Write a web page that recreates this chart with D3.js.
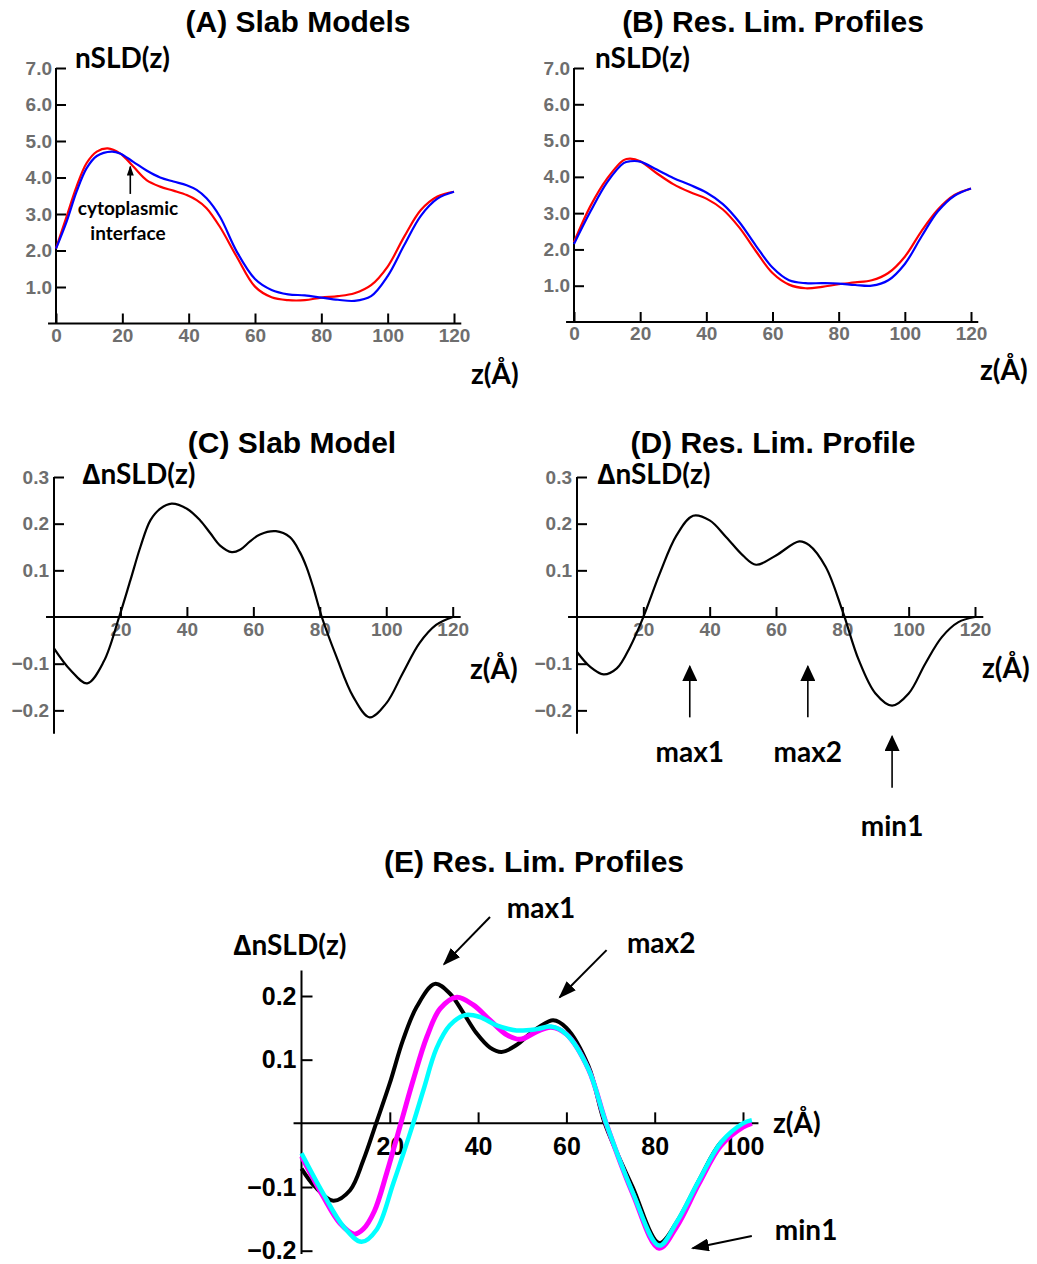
<!DOCTYPE html>
<html>
<head>
<meta charset="utf-8">
<script src="https://cdn.jsdelivr.net/npm/d3@7"></script>
<style>
  body { margin: 0; background: #fff; }
  .title { font-family: "Liberation Sans", Arial, sans-serif; font-weight: bold; font-size: 30px; }
  .lab { font-family: Lato, "Open Sans", sans-serif; font-weight: bold; }
</style>
</head>
<body>
<svg id="fig"></svg>
<script>
// ---- data ----
// (A) slab models, nSLD(z)
var zRedA = [0, 3.2, 6.2, 9.2, 12.3, 15.6, 19.3, 23.3, 27.3, 31.4, 35.4, 39.4, 42.4, 45.4, 49.4, 54.5, 60, 65, 70, 75, 80, 85, 90, 95, 100, 105, 110, 115, 120];
var redA = [2.06, 2.93, 3.75, 4.39, 4.71, 4.8, 4.66, 4.3, 3.93, 3.75, 3.64, 3.52, 3.38, 3.16, 2.65, 1.83, 1.01, 0.72, 0.64, 0.64, 0.71, 0.75, 0.83, 1.05, 1.56, 2.38, 3.11, 3.48, 3.61];
var zBlueA = [0, 3.2, 6.2, 9.2, 12.3, 16.8, 19.3, 23.3, 27.3, 31.4, 35.4, 39.4, 42.4, 45.4, 49.4, 54.5, 60, 65, 70, 75, 80, 85, 90, 95, 100, 105, 110, 115, 120];
var blueA = [2.05, 2.79, 3.61, 4.25, 4.59, 4.71, 4.66, 4.43, 4.19, 4.0, 3.89, 3.79, 3.66, 3.43, 2.93, 1.97, 1.22, 0.92, 0.8, 0.77, 0.71, 0.65, 0.62, 0.75, 1.3, 2.15, 2.95, 3.42, 3.61];

// (B) resolution limited profiles, nSLD(z)
var zB = [0, 5, 10, 15, 17, 20, 25, 30, 35, 40, 45, 50, 55, 60, 65, 70, 75, 80, 85, 90, 95, 100, 105, 110, 115, 120];
var redB = [2.2, 3.2, 3.95, 4.46, 4.5, 4.43, 4.1, 3.8, 3.58, 3.4, 3.1, 2.6, 1.95, 1.35, 1.03, 0.93, 0.97, 1.04, 1.09, 1.15, 1.35, 1.8, 2.5, 3.1, 3.5, 3.68];
var blueB = [2.15, 3.05, 3.85, 4.38, 4.43, 4.42, 4.2, 3.97, 3.78, 3.57, 3.25, 2.75, 2.1, 1.5, 1.15, 1.07, 1.07, 1.06, 1.02, 1.0, 1.15, 1.6, 2.35, 3.05, 3.48, 3.68];

// (C) slab model difference
var zC = [0, 5, 10, 15, 19.6, 23, 26, 29, 32, 35.4, 40, 44, 47, 50, 53.5, 56, 59, 62, 66.8, 71, 74, 76, 78, 80.6, 85, 90, 95, 100, 105, 110, 115, 120];
var dC = [-0.067, -0.114, -0.142, -0.095, 0, 0.079, 0.15, 0.207, 0.232, 0.243, 0.232, 0.207, 0.18, 0.153, 0.139, 0.144, 0.162, 0.177, 0.184, 0.171, 0.139, 0.107, 0.064, 0, -0.085, -0.17, -0.215, -0.185, -0.12, -0.056, -0.017, 0];

// (D) res. lim. profile difference
var zD = [0, 4, 8, 12, 16, 20, 25, 30, 35, 40, 45, 50, 54, 60, 67, 70, 75, 80, 85, 90, 95, 100, 105, 110, 115, 120];
var dD = [-0.075, -0.107, -0.123, -0.11, -0.064, 0, 0.094, 0.175, 0.217, 0.207, 0.171, 0.132, 0.112, 0.132, 0.162, 0.154, 0.107, 0.014, -0.093, -0.164, -0.19, -0.164, -0.1, -0.043, -0.011, 0];

// (E) three res. lim. profiles
var zBlackE = [0, 3, 7.2, 11, 14, 16.9, 20, 23, 26.1, 30.2, 33.6, 36.7, 39.7, 42.7, 45.3, 48.7, 51.8, 54, 57, 60, 65, 68.7, 75, 81, 85, 90, 95, 100, 102];
var blackE = [-0.071, -0.099, -0.1215, -0.105, -0.058, 0, 0.063, 0.131, 0.183, 0.219, 0.204, 0.173, 0.141, 0.119, 0.112, 0.123, 0.141, 0.152, 0.162, 0.15, 0.09, 0, -0.1, -0.188, -0.155, -0.09, -0.03, -0.005, 0];
var zMagE = [0, 4.9, 8.7, 12, 14, 16.5, 19.3, 22.5, 25.3, 28.4, 31.4, 35.2, 38.9, 42.7, 46.5, 49.5, 53.3, 56.5, 60, 65, 69, 75, 81, 85, 90, 95, 100, 102];
var magE = [-0.052, -0.115, -0.157, -0.174, -0.166, -0.138, -0.078, 0, 0.068, 0.136, 0.18, 0.198, 0.186, 0.162, 0.139, 0.132, 0.144, 0.151, 0.14, 0.085, 0, -0.11, -0.196, -0.162, -0.095, -0.035, -0.006, 0];
var zCyanE = [0, 4.9, 9.5, 13.6, 17, 20.8, 25.3, 27.6, 30.6, 33.6, 37, 40.4, 44.2, 48.7, 53.3, 56.5, 60, 65, 69, 75, 81, 85, 90, 95, 100, 102];
var cyanE = [-0.047, -0.11, -0.162, -0.186, -0.167, -0.094, 0, 0.052, 0.118, 0.154, 0.17, 0.167, 0.154, 0.146, 0.148, 0.152, 0.14, 0.085, 0, -0.108, -0.192, -0.155, -0.09, -0.03, 0, 0.005];

// tick values
var ticksNsldY = [1, 2, 3, 4, 5, 6, 7];
var ticksZ120 = [0, 20, 40, 60, 80, 100, 120];
var ticksDiffY = [0.3, 0.2, 0.1, -0.1, -0.2];
var ticksDiffX = [20, 40, 60, 80, 100, 120];
var ticksEY = [0.2, 0.1, -0.1, -0.2];
var ticksEX = [20, 40, 60, 80, 100];

var width = 1037, height = 1264;
var svg = d3.select("#fig").attr("width", width).attr("height", height);

// arrow head markers
var defs = svg.append("defs");
function marker(id, w, h) {
    defs.append("marker")
        .attr("id", id)
        .attr("markerUnits", "userSpaceOnUse")
        .attr("viewBox", "0 0 10 10")
        .attr("preserveAspectRatio", "none")
        .attr("refX", 9).attr("refY", 5)
        .attr("markerWidth", h).attr("markerHeight", w)
        .attr("orient", "auto")
        .append("path").attr("d", "M0,0L10,5L0,10z").attr("fill", "#000");
}
marker("headS", 7, 10);
marker("headL", 15, 16);
marker("headE", 13, 18);

function pts(xs, ys) {
    return xs.map(function (x, i) { return [x, ys[i]]; });
}

// generic panel: scales, axes, curves
function panel(o) {
    var x = d3.scaleLinear().domain(o.xDomain).range(o.xRange);
    var y = d3.scaleLinear().domain(o.yDomain).range(o.yRange);
    var g = svg.append("g");

    // axis lines
    g.append("line")
        .attr("x1", x(o.xLine[0])).attr("x2", x(o.xLine[1]))
        .attr("y1", y(0)).attr("y2", y(0))
        .attr("stroke", "#000").attr("stroke-width", 2);
    g.append("line")
        .attr("x1", x(0)).attr("x2", x(0))
        .attr("y1", y(o.yLine[0])).attr("y2", y(o.yLine[1]))
        .attr("stroke", "#000").attr("stroke-width", 2);

    var ax = g.append("g").attr("transform", "translate(0," + y(0) + ")")
        .call(d3.axisBottom(x).tickValues(o.xTicks).tickSize(-o.tick).tickPadding(o.xPad)
            .tickFormat(d3.format("d")));
    var ay = g.append("g").attr("transform", "translate(" + x(0) + ",0)")
        .call(d3.axisLeft(y).tickValues(o.yTicks).tickSize(-o.tick).tickPadding(o.yPad)
            .tickFormat(d3.format(".1f")));
    [ax, ay].forEach(function (a) {
        a.select(".domain").remove();
        a.attr("font-family", "'Liberation Sans', Arial, sans-serif")
            .attr("font-size", o.tickFont)
            .attr("font-weight", "bold");
        a.selectAll(".tick line").attr("stroke", "#000").attr("stroke-width", 2);
        a.selectAll(".tick text").attr("fill", o.tickColor);
    });

    var line = d3.line()
        .x(function (d) { return x(d[0]); })
        .y(function (d) { return y(d[1]); })
        .curve(d3.curveCatmullRom.alpha(0.5));

    o.series.forEach(function (s) {
        g.append("path")
            .datum(s.data)
            .attr("d", line)
            .attr("fill", "none")
            .attr("stroke", s.color)
            .attr("stroke-width", s.w)
            .attr("stroke-linejoin", "round");
    });

    return { x: x, y: y, g: g };
}

function text(str, px, py, size, anchor, cls) {
    svg.append("text")
        .attr("class", cls || "lab")
        .attr("x", px).attr("y", py)
        .attr("text-anchor", anchor || "start")
        .style("font-size", size + "px")
        .text(str);
}

function arrow(p, x1, y1, x2, y2, head, w) {
    p.g.append("line")
        .attr("x1", p.x(x1)).attr("y1", p.y(y1))
        .attr("x2", p.x(x2)).attr("y2", p.y(y2))
        .attr("stroke", "#000").attr("stroke-width", w)
        .attr("marker-end", "url(#" + head + ")");
}

function ptext(p, str, xv, yv, size, anchor) {
    p.g.append("text")
        .attr("class", "lab")
        .attr("x", p.x(xv)).attr("y", p.y(yv))
        .attr("text-anchor", anchor)
        .style("font-size", size + "px")
        .text(str);
}

var gray = "#6e6e6e";

// ---- (A) ----
var pA = panel({
    xDomain: [0, 120], xRange: [56, 454],
    yDomain: [0, 7], yRange: [323.5, 68],
    xLine: [-2.4, 122.2], yLine: [7, 0],
    xTicks: ticksZ120, yTicks: ticksNsldY,
    tick: 10, xPad: 5, yPad: 4, tickColor: gray, tickFont: 19,
    series: [
        { data: pts(zRedA, redA), color: "#ff0000", w: 2.2 },
        { data: pts(zBlueA, blueA), color: "#0000ff", w: 2.2 }
    ]
});
arrow(pA, 22.4, 3.55, 22.4, 4.3, "headS", 1.6);
ptext(pA, "cytoplasmic", 21.7, 2.98, 19, "middle");
ptext(pA, "interface", 21.7, 2.28, 19, "middle");
text("(A) Slab Models", 298, 32, 30, "middle", "title");
text("nSLD(z)", 75, 68, 28);
text("z(Å)", 471, 384, 28);

// ---- (B) ----
var pB = panel({
    xDomain: [0, 120], xRange: [574, 971],
    yDomain: [0, 7], yRange: [322, 68],
    xLine: [-2.4, 122.2], yLine: [7, 0],
    xTicks: ticksZ120, yTicks: ticksNsldY,
    tick: 10, xPad: 5, yPad: 4, tickColor: gray, tickFont: 19,
    series: [
        { data: pts(zB, redB), color: "#ff0000", w: 2.2 },
        { data: pts(zB, blueB), color: "#0000ff", w: 2.2 }
    ]
});
text("(B) Res. Lim. Profiles", 773, 32, 30, "middle", "title");
text("nSLD(z)", 595, 68, 28);
text("z(Å)", 980, 380, 28);

// ---- (C) ----
var pC = panel({
    xDomain: [0, 120], xRange: [54, 452.7],
    yDomain: [-0.25, 0.3], yRange: [733.7, 477],
    xLine: [-2.4, 122.4], yLine: [0.3, -0.25],
    xTicks: ticksDiffX, yTicks: ticksDiffY,
    tick: 10, xPad: 5, yPad: 5, tickColor: gray, tickFont: 19,
    series: [{ data: pts(zC, dC), color: "#000", w: 2.2 }]
});
text("(C) Slab Model", 292, 453, 30, "middle", "title");
text("\u2206nSLD(z)", 82, 484, 28);
text("z(Å)", 470, 679, 28);

// ---- (D) ----
var pD = panel({
    xDomain: [0, 120], xRange: [577, 975],
    yDomain: [-0.25, 0.3], yRange: [733.7, 477],
    xLine: [-2.7, 122.5], yLine: [0.3, -0.25],
    xTicks: ticksDiffX, yTicks: ticksDiffY,
    tick: 10, xPad: 5, yPad: 5, tickColor: gray, tickFont: 19,
    series: [{ data: pts(zD, dD), color: "#000", w: 2.2 }]
});
text("(D) Res. Lim. Profile", 773, 453, 30, "middle", "title");
text("\u2206nSLD(z)", 597, 484, 28);
text("z(Å)", 982, 678, 28);
arrow(pD, 34, -0.215, 34, -0.106, "headL", 1.6);
arrow(pD, 69.6, -0.215, 69.6, -0.106, "headL", 1.6);
arrow(pD, 95, -0.366, 95, -0.256, "headL", 1.6);
ptext(pD, "max1", 34, -0.31, 28, "middle");
ptext(pD, "max2", 69.6, -0.31, 28, "middle");
ptext(pD, "min1", 95, -0.47, 28, "middle");

// ---- (E) ----
var pE = panel({
    xDomain: [0, 100], xRange: [301.5, 743],
    yDomain: [-0.2, 0.2], yRange: [1250.7, 996],
    xLine: [-1.8, 103.5], yLine: [0.24, -0.205],
    xTicks: ticksEX, yTicks: ticksEY,
    tick: 11, xPad: 14, yPad: 5, tickColor: "#000", tickFont: 25,
    series: [
        { data: pts(zBlackE, blackE), color: "#000", w: 4 },
        { data: pts(zMagE, magE), color: "#ff00ff", w: 5 },
        { data: pts(zCyanE, cyanE), color: "#00ffff", w: 4.5 }
    ]
});
text("(E) Res. Lim. Profiles", 534, 872, 30, "middle", "title");
text("\u2206nSLD(z)", 233, 955, 28);
text("z(Å)", 773, 1133, 28);
arrow(pE, 42.7, 0.324, 32.3, 0.25, "headE", 2);
arrow(pE, 69.1, 0.272, 58.5, 0.198, "headE", 2);
arrow(pE, 102, -0.177, 88.6, -0.196, "headE", 2);
ptext(pE, "max1", 46.5, 0.322, 28, "start");
ptext(pE, "max2", 73.7, 0.267, 28, "start");
ptext(pE, "min1", 107.2, -0.183, 28, "start");
</script>
</body>
</html>
